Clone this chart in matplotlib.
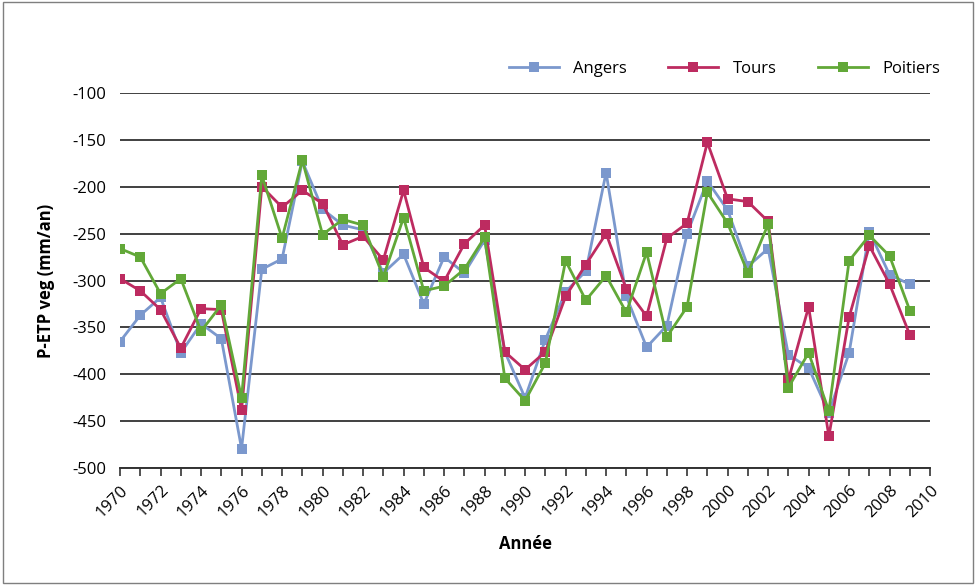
import numpy as np
import matplotlib
matplotlib.use('Agg')
import matplotlib.pyplot as plt
from matplotlib.patches import Rectangle

plt.rcParams['font.family'] = ['Open Sans', 'DejaVu Sans']
plt.rcParams['axes.unicode_minus'] = False

# Data (P-ETP veg, mm/an)
years = list(range(1970, 2010))
angers = [-365, -337, -318, -377, -346, -362, -479, -288, -277, -173,
          -224, -241, -246, -292, -272, -325, -275, -292, -257, -376,
          -425, -363, -312, -290, -185, -317, -371, -348, -250, -194,
          -225, -285, -266, -379, -393, -441, -377, -248, -294, -304]
tours = [-298, -311, -331, -372, -330, -331, -438, -200, -222, -204,
         -218, -262, -253, -278, -204, -286, -301, -261, -241, -376,
         -395, -376, -317, -283, -250, -309, -338, -255, -239, -153,
         -213, -216, -237, -406, -328, -466, -339, -263, -304, -358]
poitiers = [-266, -275, -314, -298, -354, -326, -425, -188, -255, -172,
            -251, -235, -241, -296, -233, -311, -306, -288, -254, -404,
            -428, -388, -279, -321, -295, -334, -270, -360, -328, -206,
            -239, -292, -240, -414, -377, -439, -279, -252, -274, -332]

series = [('Angers', angers, '#7b98cd'),
          ('Tours', tours, '#bd2b60'),
          ('Poitiers', poitiers, '#62a838')]

fig = plt.figure(figsize=(9.76, 5.85), dpi=100)
ax = fig.add_axes([0.123, 0.1995, 0.830, 0.642])

for name, vals, col in series:
    ax.plot(years, vals, color=col, linewidth=2.0, marker='s',
            markersize=6.5, markeredgewidth=0, label=name)

ax.set_xlim(1970, 2010)
ax.set_ylim(-500, -100)
ax.set_yticks(np.arange(-500, -99, 50))
ax.set_xticks(range(1970, 2011))
ax.set_xticklabels([str(y) if y % 2 == 0 else '' for y in range(1970, 2011)],
                   rotation=45, ha='right', rotation_mode='anchor')
ax.tick_params(axis='x', direction='out', length=6, width=1.2, color='#333333',
               labelsize=12, pad=4)
ax.tick_params(axis='y', length=0, labelsize=12, pad=10)

ax.grid(axis='y', color='#404040', linewidth=1.4)
ax.set_axisbelow(True)
for s in ['top', 'right', 'left']:
    ax.spines[s].set_visible(False)
ax.spines['bottom'].set_color('#333333')
ax.spines['bottom'].set_linewidth(1.4)

ax.set_xlabel('Année', fontsize=12, fontweight='bold', labelpad=10)
ax.set_ylabel('P-ETP veg (mm/an)', fontsize=12, fontweight='bold', labelpad=12)

fig.legend(loc='center right', bbox_to_anchor=(940 / 976, 1 - 69 / 585), ncol=3,
           frameon=False, fontsize=12, handlelength=3.0, columnspacing=2.5,
           handletextpad=0.85, borderpad=0, borderaxespad=0)

fig.patches.append(Rectangle((0.003, 0.004), 0.994, 0.992, transform=fig.transFigure,
                             fill=False, edgecolor='#7f7f7f', linewidth=1.0))

fig.savefig('out.png', dpi=100)
